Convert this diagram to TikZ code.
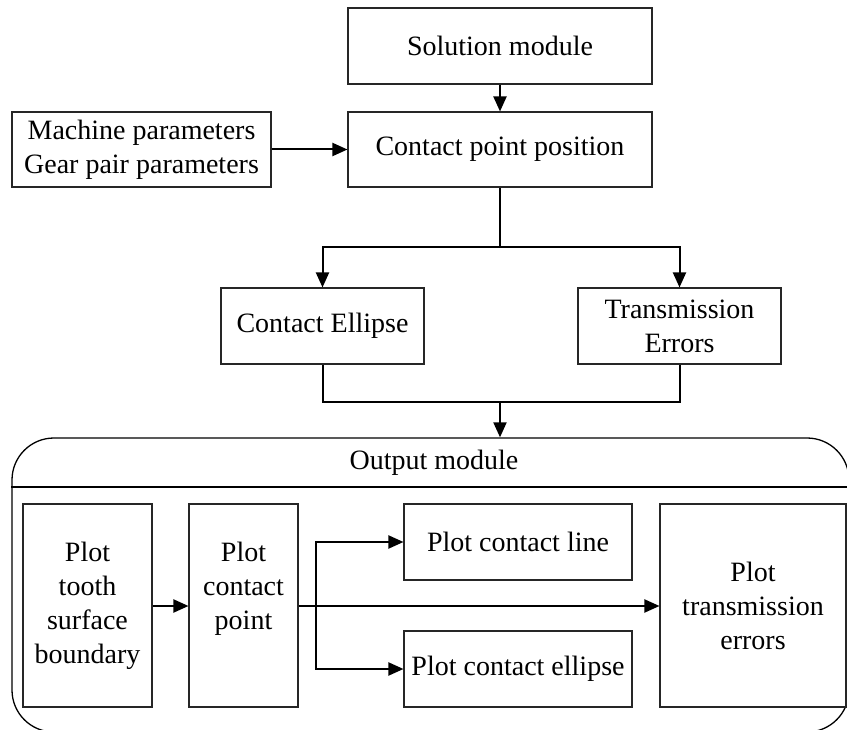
\documentclass[tikz,border=0pt]{standalone}
\usepackage{fontspec}
\setmainfont{Liberation Serif}
\usetikzlibrary{arrows.meta,calc}

\tikzset{
  box/.style={draw=black!85, line width=1.1pt, inner sep=0pt, align=center,
              font=\fontsize{28}{34}\selectfont},
  link/.style={draw=black, line width=2pt},
  arrowlink/.style={link, -{Triangle[length=15pt,width=13pt]}},
}

\begin{document}
\begin{tikzpicture}[x=1pt,y=-1pt]
  \useasboundingbox (0,0) rectangle (847,730);
  \clip (0,0) rectangle (847,730);

  % upper chain
  \node[box, minimum width=304pt, minimum height=76pt] (sol) at (500,46) {Solution module};
  \node[box, minimum width=304pt, minimum height=75pt] (cpp) at (500,149.5) {Contact point position};
  \node[box, minimum width=259pt, minimum height=75pt] (mach) at (141.5,149.5)
       {Machine parameters\\Gear pair parameters};
  \node[box, minimum width=203pt, minimum height=76pt] (ce) at (322.5,326) {Contact Ellipse};
  \node[box, minimum width=203pt, minimum height=76pt] (te) at (679.5,326) {Transmission\\Errors};

  \draw[arrowlink] (sol) -- (cpp);
  \draw[arrowlink] (mach) -- (cpp);

  \coordinate (split) at (500,247);
  \draw[link] (cpp.south) -- (split);
  \draw[arrowlink] (split) -| (ce.north);
  \draw[arrowlink] (split) -| (te.north);

  % output module frame
  \node[draw=black, line width=1.3pt, rounded corners=42pt, inner sep=0pt,
        minimum width=837pt, minimum height=294pt] (outbox) at (430.5,585) {};
  \node[font=\fontsize{28}{34}\selectfont] (outlabel) at (434,463) {Output module};
  \draw[line width=2pt] (outbox.west |- 0,487) -- (outbox.east |- 0,487);

  \coordinate (merge) at (500,402);
  \draw[link] (ce.south) |- (merge);
  \draw[link] (te.south) |- (merge);
  \draw[arrowlink] (merge) -- (merge |- outbox.north);

  % output module contents
  \node[box, minimum width=129pt, minimum height=203pt] (ptb) at (87.5,605.5)
       {Plot\\tooth\\surface\\boundary};
  \node[box, minimum width=109pt, minimum height=203pt] (pcp) at (243.5,605.5)
       {Plot\\contact\\point\\\vphantom{boundary}};
  \node[box, minimum width=228pt, minimum height=76pt] (pcl) at (518,542) {Plot contact line};
  \node[box, minimum width=228pt, minimum height=76pt] (pce) at (518,669) {Plot contact ellipse};
  \node[box, minimum width=186pt, minimum height=203pt] (pte) at (753,605.5)
       {Plot\\transmission\\errors};

  \draw[arrowlink] (ptb.east |- 0,606) -- (pcp.west |- 0,606);
  \draw[arrowlink] (pcp.east |- 0,606) -- (pte.west |- 0,606);
  \coordinate (fork) at (316,606);
  \draw[arrowlink] (fork) |- (pcl.west);
  \draw[arrowlink] (fork) |- (pce.west);
\end{tikzpicture}
\end{document}
